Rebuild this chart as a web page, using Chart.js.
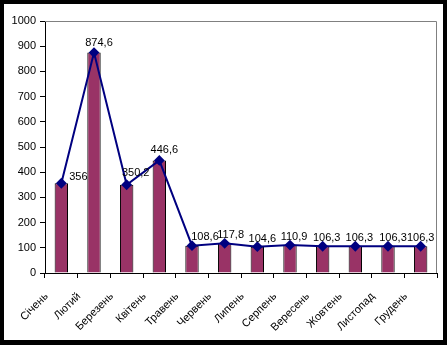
<!DOCTYPE html>
<html>
<head>
<meta charset="utf-8">
<script src="https://cdn.jsdelivr.net/npm/chart.js@4/dist/chart.umd.min.js"></script>
<style>
  html, body { margin: 0; padding: 0; background: #fff; }
  #frame {
    width: 447px; height: 345px; box-sizing: border-box;
    border: 4px solid #000; border-bottom-width: 5px; background: #fff;
  }
  canvas { display: block; }
</style>
</head>
<body>
<div id="frame"><canvas id="chart" width="439" height="336"></canvas></div>
<script>
// data
const months = ['Січень', 'Лютий', 'Березень', 'Квітень', 'Травень', 'Червень',
                'Липень', 'Серпень', 'Вересень', 'Жовтень', 'Листопад', 'Грудень'];
const barValues = [356, 874.6, 350.2, 446.6, 108.6, 117.8, 104.6, 110.9, 106.3, 106.3, 106.3, 106.3];
const lineValues = [356, 874.6, 350.2, 446.6, 108.6, 117.8, 104.6, 110.9, 106.3, 106.3, 106.3, 106.3];
const yMin = 0, yMax = 1000, yStep = 100;

const FONT = 'Liberation Sans, Arial, sans-serif';

// gray frame on top and right of plot area (like excel)
const plotFrame = {
  id: 'plotFrame',
  beforeDatasetsDraw(chart) {
    const { ctx, chartArea: a } = chart;
    ctx.save();
    ctx.strokeStyle = '#808080';
    ctx.lineWidth = 1;
    ctx.beginPath();
    ctx.moveTo(a.left, a.top + 0.5);
    ctx.lineTo(a.right - 0.5, a.top + 0.5);
    ctx.lineTo(a.right - 0.5, a.bottom);
    ctx.stroke();
    ctx.restore();
  }
};

// value labels next to the line points
const labelShift = [[17, -6], [5, -10], [9, -12], [5, -10], [13, -9], [6, -8],
                    [5, -8], [4, -8], [4, -8], [4, -8], [5, -8], [0, -8]];
const valueLabels = {
  id: 'valueLabels',
  afterDatasetsDraw(chart) {
    const { ctx } = chart;
    const meta = chart.getDatasetMeta(0);
    ctx.save();
    ctx.font = '11px ' + FONT;
    ctx.fillStyle = '#000';
    ctx.textAlign = 'center';
    ctx.textBaseline = 'middle';
    meta.data.forEach((pt, i) => {
      const txt = String(lineValues[i]).replace('.', ',');
      const s = labelShift[i] || [0, -9];
      ctx.fillText(txt, pt.x + s[0], pt.y + s[1]);
    });
    ctx.restore();
  }
};

new Chart(document.getElementById('chart'), {
  data: {
    labels: months,
    datasets: [
      {
        type: 'line',
        data: lineValues,
        order: 0,
        borderColor: '#000080',
        borderWidth: 2,
        pointStyle: 'rectRot',
        pointRadius: 4,
        pointBackgroundColor: '#000080',
        pointBorderColor: '#000080',
        tension: 0
      },
      {
        type: 'bar',
        data: barValues,
        order: 1,
        backgroundColor: '#993366',
        borderColor: '#000',
        borderWidth: 1,
        barPercentage: 0.41,
        categoryPercentage: 1
      }
    ]
  },
  options: {
    responsive: false,
    animation: false,
    layout: { padding: { left: 0, top: 17, right: 6, bottom: 0 } },
    plugins: { legend: { display: false }, tooltip: { enabled: false } },
    scales: {
      x: {
        offset: true,
        grid: { offset: true, drawOnChartArea: false, tickLength: 5, color: '#000' },
        border: { color: '#000', width: 1 },
        ticks: {
          color: '#000', font: { family: FONT, size: 11 },
          minRotation: 45, maxRotation: 45, labelOffset: -15, padding: 12
        },
        afterFit(scale) { scale.height = 67; }
      },
      y: {
        min: yMin, max: yMax,
        grid: { drawOnChartArea: false, tickLength: 5, color: '#000' },
        border: { color: '#000', width: 1 },
        ticks: {
          stepSize: yStep, color: '#000', font: { family: FONT, size: 11 }, padding: 4,
          callback: v => String(v)
        },
        afterFit(scale) { scale.width = 41; }
      }
    }
  },
  plugins: [plotFrame, valueLabels]
});
</script>
</body>
</html>
